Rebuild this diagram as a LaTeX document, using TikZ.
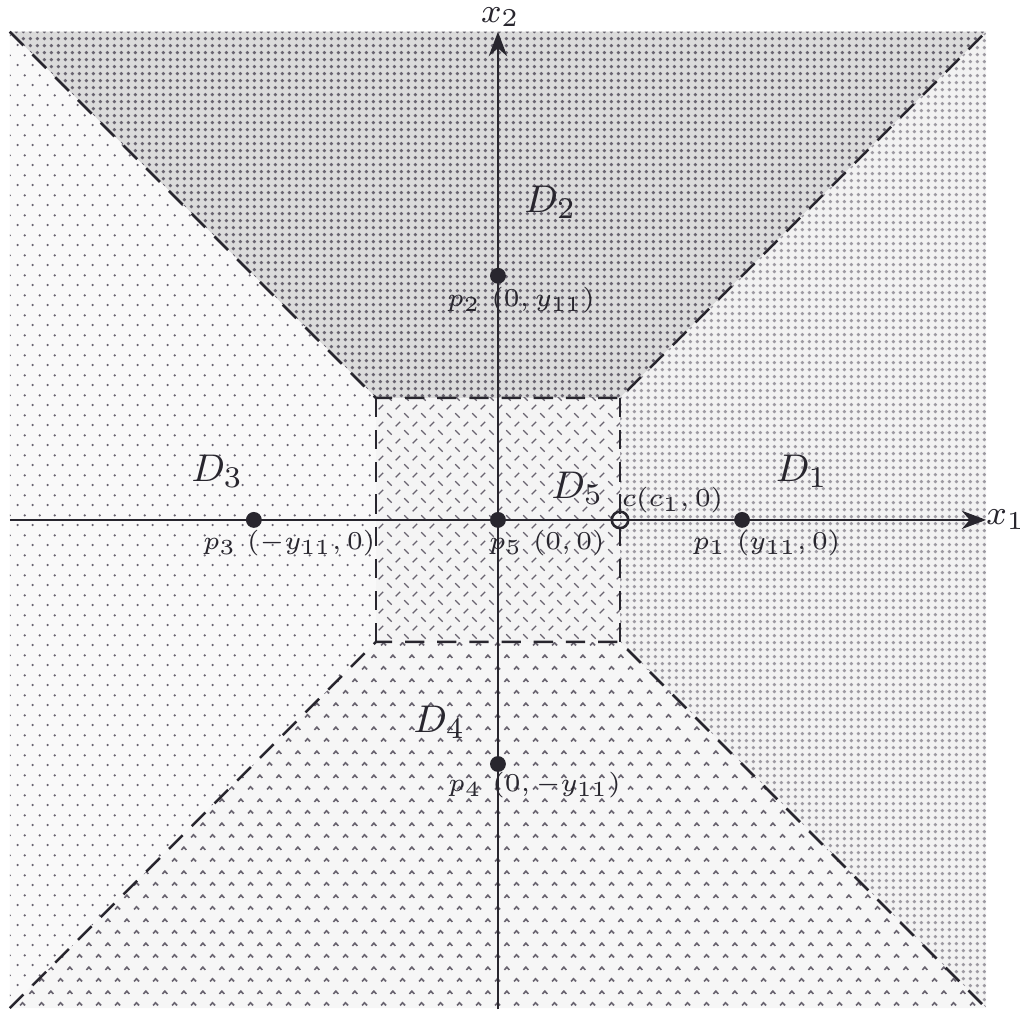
\documentclass[tikz,border=0pt]{standalone}
\usepackage{amsmath,amssymb}
\usetikzlibrary{patterns,patterns.meta,arrows.meta}
\definecolor{scanink}{RGB}{40,38,46}
\definecolor{dotgray}{RGB}{105,100,112}

% fill patterns of the five regions
\tikzdeclarepattern{name=densedots, type=uncolored,
  bounding box={(0pt,0pt) and (1.6pt,1.6pt)}, tile size={(1.6pt,1.6pt)},
  code={\fill (0.8pt,0.8pt) circle (0.42pt);}}
\tikzdeclarepattern{name=sparsedots, type=uncolored,
  bounding box={(0pt,0pt) and (3.5pt,4.7pt)}, tile size={(3.5pt,4.7pt)},
  code={\fill (0.9pt,1.2pt) circle (0.3pt); \fill (2.65pt,3.55pt) circle (0.3pt);}}
\tikzdeclarepattern{name=chevrons, type=uncolored,
  bounding box={(0pt,0pt) and (4.5pt,5.6pt)}, tile size={(4.5pt,5.6pt)},
  code={\draw[line width=0.4pt] (0.5pt,1.1pt) -- (1.1pt,1.75pt) -- (1.7pt,1.1pt);
        \draw[line width=0.4pt] (2.75pt,3.9pt) -- (3.35pt,4.55pt) -- (3.95pt,3.9pt);}}
\tikzdeclarepattern{name=slashes, type=uncolored,
  bounding box={(0pt,0pt) and (4pt,4pt)}, tile size={(4pt,4pt)},
  code={\draw[line width=0.3pt] (0.4pt,0.4pt) -- (1.5pt,1.5pt);
        \draw[line width=0.3pt] (2.5pt,3.6pt) -- (3.6pt,2.5pt);}}

\begin{document}
\begin{tikzpicture}[>=Stealth,
    regone/.style={preaction={fill=gray!10}, pattern=densedots, pattern color=dotgray!65},
    regtwo/.style={preaction={fill=gray!28}, pattern=densedots, pattern color=dotgray},
    regthree/.style={preaction={fill=gray!5}, pattern=sparsedots, pattern color=dotgray},
    regfour/.style={preaction={fill=gray!7}, pattern=chevrons, pattern color=dotgray},
    regfive/.style={preaction={fill=gray!9}, pattern=slashes, pattern color=dotgray},
    bound/.style={scanink, semithick, dash pattern=on 4.5pt off 3pt},
    axis/.style={scanink, semithick},
    pt/.style={circle, fill=scanink, inner sep=0pt, minimum size=1.3mm},
    opt/.style={circle, draw=scanink, semithick, fill=none, inner sep=0pt, minimum size=1.35mm},
    ptlab/.style={text=scanink, font=\fontsize{6}{7}\selectfont, inner sep=0pt},
    axlab/.style={text=scanink, font=\footnotesize, inner sep=0pt},
    dlab/.style={text=scanink, font=\fontsize{9.5}{11}\selectfont, inner sep=0pt}]
    \useasboundingbox (-4.08,-4.01) rectangle (4.31,4.26);

    % Corners
    \coordinate (ul) at (-4,4);
    \coordinate (ur) at (4,4);
    \coordinate (ll) at (-4,-4);
    \coordinate (lr) at (4,-4);
    \coordinate (sqnw) at (-1,1);
    \coordinate (sqne) at (1,1);
    \coordinate (sqsw) at (-1,-1);
    \coordinate (sqse) at (1,-1);

    % Regions
    \fill[regtwo] (ul) -- (ur) -- (sqne) -- (sqnw) -- cycle;
    \fill[regone] (ur) -- (lr) -- (sqse) -- (sqne) -- cycle;
    \fill[regthree] (ul) -- (sqnw) -- (sqsw) -- (ll) -- cycle;
    \fill[regfour] (ll) -- (sqsw) -- (sqse) -- (lr) -- cycle;
    \fill[regfive] (sqnw) rectangle (sqse);

    % Boundaries
    \draw[bound] (ul) -- (sqnw) -- (sqne) -- (ur);
    \draw[bound] (ll) -- (sqsw) -- (sqse) -- (lr);
    \draw[bound] (sqnw) -- (sqsw);
    \draw[bound] (sqne) -- (sqse);

    % Axes
    \coordinate (xa) at (-4,0);
    \coordinate (xb) at (4,0);
    \coordinate (ya) at (0,-4.01);
    \coordinate (yb) at (0,4);
    \draw[axis,->] (xa) -- (xb);
    \draw[axis,->] (ya) -- (yb);
    \node[axlab] (x1lab) at (4.16,0) {$x_1$};
    \node[axlab] (x2lab) at (0.02,4.12) {$x_2$};

    % Points
    \node[pt] (p1) at (2,0) {};
    \node[pt] (p2) at (0,2) {};
    \node[pt] (p3) at (-2,0) {};
    \node[pt] (p4) at (0,-2) {};
    \node[pt] (p5) at (0,0) {};
    \node[opt] (c) at (1,0) {};

    % Point labels
    \node[ptlab] (p1lab) at (2.20,-0.19) {$p_1\ (y_{11},0)$};
    \node[ptlab] (p2lab) at (0.19,1.80) {$p_2\ (0,y_{11})$};
    \node[ptlab] (p3lab) at (-1.71,-0.19) {$p_3\ (-y_{11},0)$};
    \node[ptlab] (p4lab) at (0.30,-2.17) {$p_4\ (0,-y_{11})$};
    \node[ptlab] (p5lab) at (0.40,-0.19) {$p_5\ (0,0)$};
    \node[ptlab] (clab) at (1.43,0.16) {$c(c_1,0)$};

    % Region names
    \node[dlab] (d1) at (2.49,0.40) {$D_1$};
    \node[dlab] (d2) at (0.43,2.60) {$D_2$};
    \node[dlab] (d3) at (-2.30,0.40) {$D_3$};
    \node[dlab] (d4) at (-0.48,-1.66) {$D_4$};
    \node[dlab] (d5) at (0.65,0.26) {$D_5$};
\end{tikzpicture}
\end{document}
